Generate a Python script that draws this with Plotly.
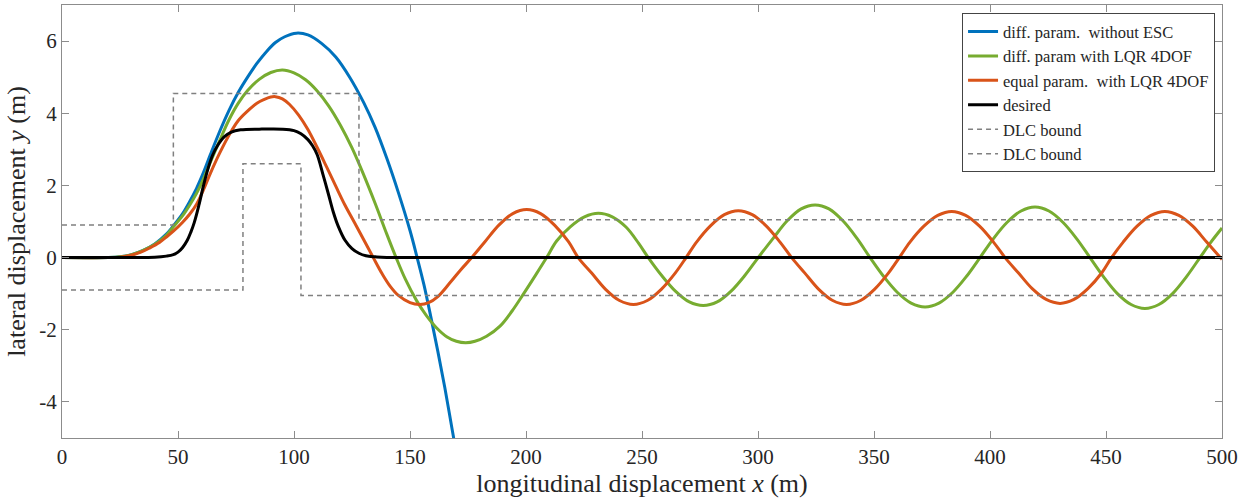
import plotly.graph_objects as go

# ---------------- data ----------------
# diff. param. without ESC (blue)
blue_x = [0, 20, 25, 30, 35, 40, 45, 48, 52, 55, 58, 61, 64, 68, 72, 76, 80, 84, 88, 92, 96, 101,
          106, 112, 118, 124, 130, 135, 140, 145, 150, 153, 156, 159, 162, 165, 168, 171]
blue_y = [0, 0, 0.02, 0.08, 0.2, 0.38, 0.65, 0.88, 1.22, 1.55, 1.92, 2.36, 2.86, 3.5, 4.08, 4.58, 5.0, 5.38, 5.7, 5.96, 6.12, 6.22,
          6.17, 5.93, 5.56, 5.0, 4.3, 3.6, 2.75, 1.8, 0.75, 0.02, -0.75, -1.65, -2.6, -3.6, -4.7, -5.8]

# diff. param with LQR 4DOF (green)
green_x = [0, 20, 25, 30, 35, 40, 45, 48, 52, 55, 58, 61, 64, 68, 72, 76, 80, 85, 90, 95, 100, 105, 110, 115,
           120, 125, 130, 135, 140, 144, 148, 152.9, 157, 161.5, 166, 170, 174, 178, 183, 188.8, 194,
           199, 204, 208.9, 213.2, 219.2, 225.2, 231.2, 237.2, 243.2, 248.5, 252.7,
           258.4, 264.4, 270.4, 276.4, 282.4, 288.4, 294.4, 300.1,
           306.6, 312.6, 318.6, 324.6, 330.6, 336.6, 342.6, 348.3,
           354, 360, 366, 372, 378, 384, 390, 395.7,
           401.4, 407.4, 413.4, 419.4, 425.4, 431.4, 437.4, 443.1,
           448.8, 454.8, 460.8, 466.8, 472.8, 478.8, 484.8, 490.5, 495, 500]
green_y = [0, 0, 0.02, 0.08, 0.2, 0.37, 0.62, 0.85, 1.16, 1.45, 1.78, 2.18, 2.65, 3.25, 3.82, 4.28, 4.63, 4.94, 5.13, 5.2, 5.12, 4.93, 4.62, 4.2,
           3.67, 3.04, 2.3, 1.5, 0.65, 0.0, -0.6, -1.2, -1.6, -1.95, -2.2, -2.32, -2.36, -2.32, -2.18, -1.9, -1.48,
           -1.0, -0.5, 0, 0.46, 0.86, 1.13, 1.23, 1.13, 0.84, 0.4, 0,
           -0.49, -0.93, -1.23, -1.33, -1.23, -0.93, -0.49, 0,
           0.54, 1.02, 1.35, 1.46, 1.35, 1.02, 0.54, 0,
           -0.51, -0.96, -1.26, -1.37, -1.26, -0.96, -0.51, 0,
           0.52, 0.98, 1.29, 1.40, 1.29, 0.98, 0.52, 0,
           -0.52, -0.99, -1.30, -1.41, -1.30, -0.99, -0.52, 0, 0.41, 0.82]

# equal param. with LQR 4DOF (orange)
orange_x = [0, 20, 25, 29.3, 34, 37.9, 42, 45, 48, 52, 55, 58, 61, 64, 68, 72.4, 76, 79.6, 84, 87, 90, 92, 95, 98,
            102, 106, 110, 114, 118, 122, 126, 130, 134, 138, 141.4, 145, 150, 154.3, 158, 162, 167.2, 172, 176.6,
            182.3, 188.3, 194.3, 200.3, 206.3, 212.3, 218.3, 222.5,
            228.3, 234.3, 240.3, 246.3, 252.3, 258.3, 264.3, 269,
            273.5, 279.5, 285.5, 291.5, 297.5, 303.5, 309.5, 314.5,
            320.2, 326.2, 332.2, 338.2, 344.2, 350.2, 356.2, 360.9,
            365.5, 371.5, 377.5, 383.5, 389.5, 395.5, 401.5, 406.5,
            412.2, 418.2, 424.2, 430.2, 436.2, 442.2, 448.2, 452.4,
            457.4, 463.4, 469.4, 475.4, 481.4, 487.4, 493.4, 500]
orange_y = [0, 0, 0.01, 0.06, 0.15, 0.27, 0.42, 0.57, 0.73, 0.98, 1.2, 1.48, 1.88, 2.34, 2.9, 3.44, 3.8, 4.04, 4.28, 4.38, 4.45, 4.46, 4.4, 4.25,
            3.95, 3.55, 3.05, 2.52, 1.98, 1.45, 0.98, 0.5, 0.02, -0.45, -0.79, -1.05, -1.25, -1.30, -1.25, -1.08, -0.70, -0.33, 0,
            0.44, 0.90, 1.22, 1.33, 1.22, 0.90, 0.44, 0,
            -0.43, -0.88, -1.19, -1.30, -1.19, -0.88, -0.43, 0,
            0.43, 0.88, 1.19, 1.30, 1.19, 0.88, 0.43, 0,
            -0.43, -0.88, -1.19, -1.30, -1.19, -0.88, -0.43, 0,
            0.43, 0.87, 1.17, 1.28, 1.17, 0.87, 0.43, 0,
            -0.42, -0.86, -1.16, -1.27, -1.16, -0.86, -0.42, 0,
            0.43, 0.87, 1.17, 1.28, 1.17, 0.87, 0.43, -0.05]

# desired (black)
desired_x = [0, 30, 40, 45, 48, 50, 52, 54, 55.5, 57, 59, 61, 63, 65, 67, 70, 73, 77, 85, 95, 100, 103, 106, 108, 110,
             112.5, 115, 117, 119, 122, 125, 128, 131, 135, 140, 500]
desired_y = [0, 0, 0.01, 0.04, 0.08, 0.15, 0.28, 0.48, 0.7, 0.97, 1.45, 2.0, 2.48, 2.85, 3.1, 3.35, 3.48, 3.54, 3.56, 3.56, 3.52, 3.43, 3.27, 3.1, 2.85,
             2.3, 1.72, 1.25, 0.88, 0.48, 0.25, 0.12, 0.05, 0.02, 0, 0]

# DLC bounds (step lines)
dlc_upper_x = [0, 48, 128, 500]
dlc_upper_y = [0.9, 4.55, 1.05, 1.05]
dlc_lower_x = [0, 78, 103, 500]
dlc_lower_y = [-0.9, 2.6, -1.05, -1.05]

x_ticks = [0, 50, 100, 150, 200, 250, 300, 350, 400, 450, 500]
y_ticks = [-4, -2, 0, 2, 4, 6]
y_tick_text = ["-4", "-2", "0", "2", "4", "6"]

# ---------------- figure ----------------
FONT = "Liberation Serif, Times New Roman, serif"
fig = go.Figure()

curve = dict(width=3, shape="spline", smoothing=1.0)
fig.add_trace(go.Scatter(x=blue_x, y=blue_y, mode="lines", name="diff. param.  without ESC",
                         line=dict(color="#0072BD", **curve)))
fig.add_trace(go.Scatter(x=green_x, y=green_y, mode="lines", name="diff. param with LQR 4DOF",
                         line=dict(color="#77AC30", **curve)))
fig.add_trace(go.Scatter(x=orange_x, y=orange_y, mode="lines", name="equal param.  with LQR 4DOF",
                         line=dict(color="#D95319", **curve)))
fig.add_trace(go.Scatter(x=desired_x, y=desired_y, mode="lines", name="desired",
                         line=dict(color="#000000", **curve)))
fig.add_trace(go.Scatter(x=dlc_upper_x, y=dlc_upper_y, mode="lines", name="DLC bound",
                         line=dict(color="#808080", width=1.5, dash="5px,4px", shape="hv")))
fig.add_trace(go.Scatter(x=dlc_lower_x, y=dlc_lower_y, mode="lines", name="DLC bound",
                         line=dict(color="#808080", width=1.5, dash="5px,4px", shape="hv")))

axis_common = dict(showline=True, linecolor="#8c8c8c", linewidth=1, mirror="ticks",
                   ticks="inside", ticklen=7, tickcolor="#8c8c8c", showgrid=False, zeroline=False,
                   tickfont=dict(family=FONT, size=21, color="#262626"))

fig.update_layout(
    width=1250, height=503,
    margin=dict(l=62, r=28, t=5, b=65),
    paper_bgcolor="white", plot_bgcolor="white",
    font=dict(family=FONT, color="#262626"),
    xaxis=dict(range=[0, 500], tickvals=x_ticks,
               title=dict(text="longitudinal displacement <i>x</i> (m)", font=dict(family=FONT, size=26, color="#262626"), standoff=2),
               **axis_common),
    yaxis=dict(range=[-5, 7], tickvals=y_ticks, ticktext=y_tick_text,
               title=dict(text="lateral displacement <i>y</i> (m)", font=dict(family=FONT, size=26, color="#262626"), standoff=6),
               **axis_common),
    legend=dict(x=0.994, y=0.981, xanchor="right", yanchor="top",
                bgcolor="white", bordercolor="#444444", borderwidth=1,
                font=dict(family=FONT, size=16.5, color="#262626"),
                itemwidth=30, tracegroupgap=0),
    showlegend=True,
)

fig.write_html("out.html", post_script="document.body.style.margin='0';",
               config={"displayModeBar": False})
